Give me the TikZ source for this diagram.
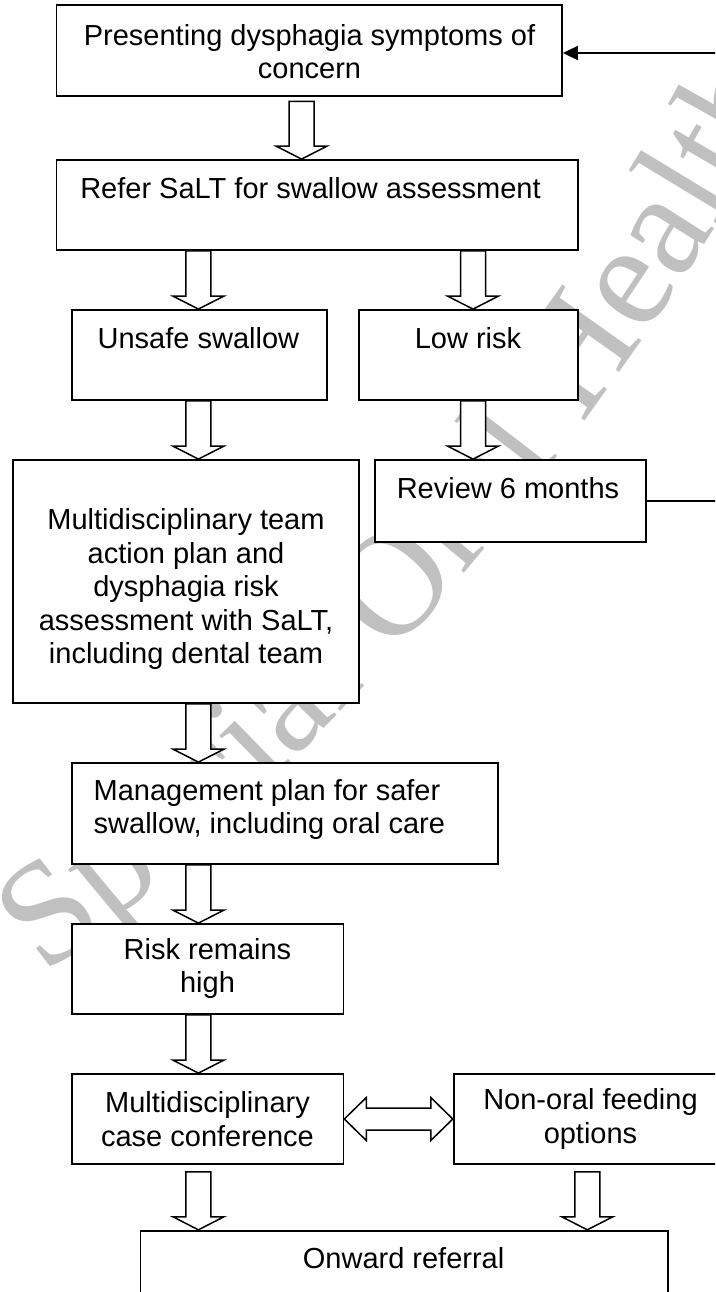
\documentclass[tikz,border=0pt]{standalone}
\usepackage{fontspec}
\setmainfont{Liberation Sans}
\newfontfamily\wmserif{Liberation Serif}
\usetikzlibrary{calc,arrows.meta,decorations.text}
\definecolor{wmgray}{RGB}{192,192,192}
\tikzset{
  box/.style={draw, line width=1.8pt, fill=white, inner sep=0pt, rectangle},
  txt/.style={inner sep=0pt, align=center, font=\fontsize{29pt}{33.5pt}\selectfont},
  blockarrow/.style={draw, line width=1.5pt, fill=white, line join=miter},
  feedback/.style={line width=1.8pt, -{Triangle[length=15pt,width=14pt]}},
}
% #1 source node, #2 target node, #3 x of arrow axis, #4 gap below source
\newcommand\fatdown[4]{%
  \draw[blockarrow] let \p1=(#1.south), \p2=(#2.north) in
    ({#3pt-12.5pt},{\y1-#4pt}) -- ({#3pt+12.5pt},{\y1-#4pt}) --
    ({#3pt+12.5pt},{\y2+13pt}) -- ({#3pt+25.5pt},{\y2+13pt}) --
    (#3pt,\y2) --
    ({#3pt-25.5pt},{\y2+13pt}) -- ({#3pt-12.5pt},{\y2+13pt}) -- cycle;
}
\begin{document}
\begin{tikzpicture}[x=1pt,y=-1pt]
\useasboundingbox (0,0) rectangle (715,1292);
\clip (0,0) rectangle (715,1292);

% watermark
\path[decorate, decoration={text along path, text align=left,
  text={|\wmserif\fontsize{148pt}{148pt}\selectfont\color{wmgray}|Special Oral Health}}]
  (44,975) .. controls (360,740) and (655,375) .. (830,20);

% boxes
\node[box, minimum width=505.5pt, minimum height=91pt]  (b1)   at (309.25,50.5) {};
\node[box, minimum width=521.5pt, minimum height=90pt]  (b2)   at (317.25,205) {};
\node[box, minimum width=255pt,   minimum height=90pt]  (uns)  at (199.5,355) {};
\node[box, minimum width=219pt,   minimum height=90pt]  (low)  at (468.5,355) {};
\node[box, minimum width=346.2pt, minimum height=243pt] (mdt)  at (185.9,581.5) {};
\node[box, minimum width=271pt,   minimum height=82pt]  (rev)  at (510.5,501) {};
\node[box, minimum width=426pt,   minimum height=101pt] (mgmt) at (285,813.5) {};
\node[box, minimum width=271.4pt, minimum height=90pt]  (risk) at (207.7,969) {};
\node[box, minimum width=271.4pt, minimum height=90pt]  (mdc)  at (207.7,1119) {};
\node[box, minimum width=306.3pt, minimum height=90pt]  (non)  at (606.85,1119) {};
\node[box, minimum width=527.6pt, minimum height=99.3pt] (onw) at (404.2,1280.35) {};

% texts
\node[txt] (t1) at (309.5,51.5) {Presenting dysphagia symptoms of\\concern};
\node[txt] (t2) at (310.5,188) {Refer SaLT for swallow assessment};
\node[txt] (t3) at (198.4,338) {Unsafe swallow};
\node[txt] (t4) at (468,338) {Low risk};
\node[txt] (t5) at (186,589) {Multidisciplinary team\\action plan and\\dysphagia risk\\assessment with SaLT,\\including dental team};
\node[txt] (t6) at (508,488) {Review 6 months};
\node[txt, align=left, anchor=west] (t7) at (93.5,809.5) {Management plan for safer\\swallow, including oral care};
\node[txt] (t8) at (207.5,968.5) {Risk remains\\high};
\node[txt] (t9) at (207.5,1119) {Multidisciplinary\\case conference};
\node[txt] (t10) at (590.5,1119) {Non-oral feeding\\options};
\node[txt] (t11) at (403.6,1258) {Onward referral};

% block arrows
\fatdown{b1}{b2}{301.6}{4.5}
\fatdown{b2}{uns}{198.4}{0}
\fatdown{b2}{low}{473}{0}
\fatdown{uns}{mdt}{198.4}{0}
\fatdown{low}{rev}{473}{0}
\fatdown{mdt}{mgmt}{198.4}{0}
\fatdown{mgmt}{risk}{198.4}{0}
\fatdown{risk}{mdc}{198.4}{0}
\fatdown{mdc}{onw}{198.4}{7}
\fatdown{non}{onw}{587.3}{7}

% double block arrow
\draw[blockarrow] let \p1=(mdc.east), \p2=(non.west) in
  (\x1,\y1) -- ({\x1+22pt},{\y1+21.5pt}) -- ({\x1+22pt},{\y1+11pt}) --
  ({\x2-22pt},{\y1+11pt}) -- ({\x2-22pt},{\y1+21.5pt}) -- (\x2,\y1) --
  ({\x2-22pt},{\y1-21.5pt}) -- ({\x2-22pt},{\y1-11pt}) --
  ({\x1+22pt},{\y1-11pt}) -- ({\x1+22pt},{\y1-21.5pt}) -- cycle;

% feedback loop
\draw[feedback] (rev.east) -- ++(100pt,0) |- ([yshift=-2.5pt]b1.east);
\end{tikzpicture}
\end{document}
